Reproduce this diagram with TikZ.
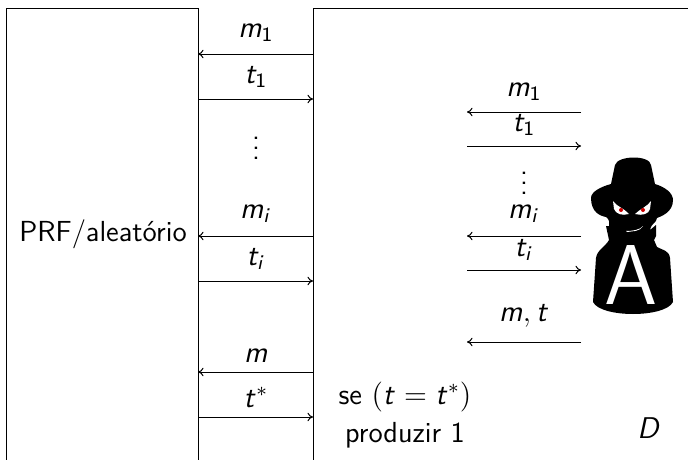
\documentclass[tikz,border=0pt]{standalone}
\usepackage{fontspec}
\usepackage{amsmath}
\DeclareMathAlphabet{\mathsi}{OT1}{cmss}{m}{sl}
\usetikzlibrary{arrows.meta}
\newcommand{\sv}[1]{\mathsi{#1}}
\newcommand{\sd}[1]{\mathsf{#1}}
\tikzset{
  x=0.4pt,y=-0.4pt,
  every node/.style={font=\sffamily\fontsize{11.6}{14}\selectfont,inner sep=0pt,outer sep=0pt},
  frame/.style={line width=0.4pt,draw=black},
  msg/.style={line width=0.4pt,draw=black,-{To[length=2.2pt,width=3.4pt]}},
  lbl/.style={anchor=center},
  area/.style={anchor=north west,minimum width=#1*0.4pt,minimum height=181pt},
  spy/.style={fill=black,draw=none},
}
\begin{document}
\begin{tikzpicture}
\useasboundingbox (0,0) rectangle (688,460);
\node[area=192] (prf) at (6,8) {};
\node[area=374.5] (dist) at (313,8) {};
\draw[frame] (prf.south west)--(prf.north west)--(prf.north east)--(prf.south east);
\draw[frame] (dist.south west)--(dist.north west)--(dist.north east);
\node[lbl] (prflabel) at (103,234) {PRF/aleatório};
% left channel
\coordinate (la1) at (prf.east |- 0,54);
\coordinate (lb1) at (dist.west |- 0,54);
\coordinate (la2) at (prf.east |- 0,99);
\coordinate (lb2) at (dist.west |- 0,99);
\coordinate (la3) at (prf.east |- 0,236);
\coordinate (lb3) at (dist.west |- 0,236);
\coordinate (la4) at (prf.east |- 0,281);
\coordinate (lb4) at (dist.west |- 0,281);
\coordinate (la5) at (prf.east |- 0,372);
\coordinate (lb5) at (dist.west |- 0,372);
\coordinate (la6) at (prf.east |- 0,417);
\coordinate (lb6) at (dist.west |- 0,417);
\draw[msg] (lb1)--(la1);
\draw[msg] (la2)--(lb2);
\draw[msg] (lb3)--(la3);
\draw[msg] (la4)--(lb4);
\draw[msg] (lb5)--(la5);
\draw[msg] (la6)--(lb6);
\node[lbl] (n1) at (256,33) {$\sv{m}_{\sd{1}}$};
\node[lbl] (n2) at (256,77) {$\sv{t}_{\sd{1}}$};
\node[lbl] (n3) at (256,159) {\smash{$\vdots$}};
\node[lbl] (n4) at (256,214) {$\sv{m}_{\sv{i}}$};
\node[lbl] (n5) at (256,259) {$\sv{t}_{\sv{i}}$};
\node[lbl] (n6) at (256,356) {$\sv{m}$};
\node[lbl] (n7) at (256,397) {$\sv{t}^{*}$};
% right channel
\coordinate (ra1) at (467,112);\coordinate (rb1) at (581,112);
\coordinate (ra2) at (467,146);\coordinate (rb2) at (581,146);
\coordinate (ra3) at (467,236);\coordinate (rb3) at (581,236);
\coordinate (ra4) at (467,270);\coordinate (rb4) at (581,270);
\coordinate (ra5) at (467,342);\coordinate (rb5) at (581,342);
\draw[msg] (rb1)--(ra1);
\draw[msg] (ra2)--(rb2);
\draw[msg] (rb3)--(ra3);
\draw[msg] (ra4)--(rb4);
\draw[msg] (rb5)--(ra5);
\node[lbl] (r1) at (524,92) {$\sv{m}_{\sd{1}}$};
\node[lbl] (r2) at (524,125) {$\sv{t}_{\sd{1}}$};
\node[lbl] (r3) at (524,194) {\smash{$\vdots$}};
\node[lbl] (r4) at (524,214) {$\sv{m}_{\sv{i}}$};
\node[lbl] (r5) at (524,250) {$\sv{t}_{\sv{i}}$};
\node[lbl] (r6) at (524,316) {$\sv{m},\sv{t}$};
\node[lbl] (cond) at (405,397) {se $(\sv{t}=\sv{t}^{*})$};
\node[lbl] (out) at (405,435) {produzir 1};
\node[lbl] (dname) at (649,428) {$\sv{D}$};
% adversary figure
\path[spy] (615,165) .. controls (618,155) and (650,155) .. (651,165)
  -- (655,184) .. controls (665,187) and (673,193) .. (673,200)
  .. controls (673,212) and (662,216) .. (657,218)
  .. controls (655,225) and (652,222) .. (650,230)
  -- (656,225) -- (656,236) -- (654,240) -- (657,247)
  .. controls (662,250) and (669,250) .. (670,258)
  -- (673,302) .. controls (665,318) and (601,318) .. (593,302)
  -- (596,258) .. controls (597,250) and (606,246) .. (609,240)
  -- (606,226) -- (609,226)
  .. controls (609,222) and (610,220) .. (606,217)
  .. controls (600,216) and (591,212) .. (591,198)
  .. controls (591,192) and (600,187) .. (611,184) -- cycle;
% eyes and mouth
\fill[white] (613,201) .. controls (616,206) and (625,209) .. (629,214)
  .. controls (622,216) and (616,214) .. (614,209) -- cycle;
\fill[white] (651,201) .. controls (648,206) and (640,209) .. (635,214)
  .. controls (642,216) and (649,214) .. (650,209) -- cycle;
\fill[red!80!black] (621,210) circle (2);
\fill[red!80!black] (643,210) circle (2);
\fill[white] (626,231) .. controls (632,231) and (640,230) .. (643,226)
  .. controls (640,232) and (632,231) .. (627,232) -- cycle;
\node[font=\sffamily\fontsize{34}{40}\selectfont,text=white,lbl] (adv) at (631.5,275) {A};
\end{tikzpicture}
\end{document}
